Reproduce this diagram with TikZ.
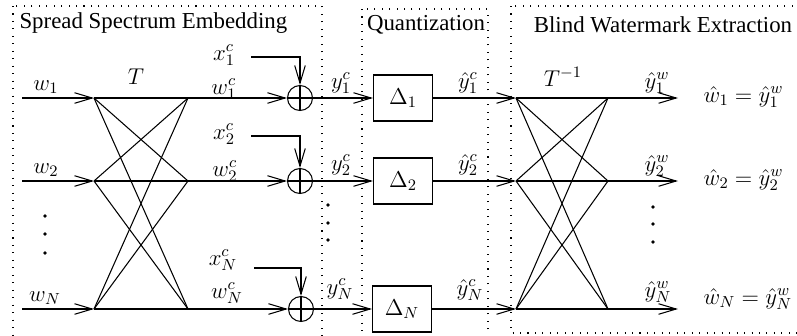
\RequirePackage{fix-cm}
\documentclass[tikz,border=0pt]{standalone}
\usepackage{fontspec}
\setmainfont{Liberation Serif}
\usepackage{tikz}
\usetikzlibrary{arrows.meta}
\tikzset{
  lbl/.style={font=\fontsize{13}{15}\selectfont, inner sep=0pt, anchor=base},
  ttl/.style={font=\fontsize{13}{15}\selectfont, inner sep=0pt, anchor=base},
  arr/.style={-{Straight Barb[length=10pt,width=6pt]}},
  sum/.style={circle, draw, minimum size=0.5cm, inner sep=0pt,
    path picture={\draw (path picture bounding box.north) -- (path picture bounding box.south)
                        (path picture bounding box.west) -- (path picture bounding box.east);}},
  qbox/.style={draw, minimum width=1.18cm, minimum height=0.92cm, inner sep=0pt,
    font=\fontsize{13}{15}\selectfont},
  stage/.style={line width=0.8pt, dash pattern=on 0.6pt off 3.65pt},
}

\begin{document}
\begin{tikzpicture}[x=0.02cm, y=-0.02cm, line width=0.6pt]
  \useasboundingbox (0,0) rectangle (797,335);

  % 三个阶段的虚线框
  \draw[stage] (13,6) rectangle (322,360);
  \draw[stage] (362,9) rectangle (488,360);
  \draw[stage] (511,6) rectangle (840,333);
  \node[ttl, anchor=base west] (ttlE) at (19,28) {Spread Spectrum Embedding};
  \node[ttl] (ttlQ) at (426,30) {Quantization};
  \node[ttl] (ttlX) at (663,32) {Blind Watermark Extraction};

  % 变换 T 的端点
  \coordinate (in1) at (22,98);  \coordinate (tl1) at (94,98);  \coordinate (tr1) at (188,98);
  \coordinate (in2) at (22,181); \coordinate (tl2) at (94,181); \coordinate (tr2) at (188,181);
  \coordinate (inN) at (22,309); \coordinate (tlN) at (94,309); \coordinate (trN) at (188,309);

  % 变换 T^{-1} 的端点
  \coordinate (il1) at (516,98);  \coordinate (ir1) at (608,98);  \coordinate (out1) at (678,98);
  \coordinate (il2) at (516,181); \coordinate (ir2) at (608,181); \coordinate (out2) at (678,181);
  \coordinate (ilN) at (516,309); \coordinate (irN) at (608,309); \coordinate (outN) at (678,309);

  % 加法器与量化器
  \node[sum] (s1) at (300,98) {};
  \node[sum] (s2) at (300,181) {};
  \node[sum] (sN) at (301,309) {};
  \node[qbox] (q1) at (403,98) {$\Delta_1$};
  \node[qbox] (q2) at (403,181) {$\Delta_2$};
  \node[qbox] (qN) at (402,309) {$\Delta_N$};

  % 宿主信号输入
  \coordinate (xc1) at (251,57);
  \coordinate (xc2) at (251,136);
  \coordinate (xcN) at (254,268);
  \draw[arr] (xc1) -| (s1);
  \draw[arr] (xc2) -| (s2);
  \draw[arr] (xcN) -| (sN);

  % 输入箭头
  \draw[arr] (in1) -- (tl1);
  \draw[arr] (in2) -- (tl2);
  \draw[arr] (inN) -- (tlN);

  % 交叉连线
  \foreach \a in {1,2,N} {
    \foreach \b in {1,2,N} {
      \draw (tl\a) -- (tr\b);
      \draw (il\a) -- (ir\b);
    }
  }

  % 各行信号通路
  \draw[arr] (tr1) -- (s1);
  \draw[arr] (tr2) -- (s2);
  \draw[arr] (trN) -- (sN);
  \draw[arr] (s1) -- (q1);
  \draw[arr] (s2) -- (q2);
  \draw[arr] (sN) -- (qN);
  \draw[arr] (q1) -- (il1);
  \draw[arr] (q2) -- (il2);
  \draw[arr] (qN) -- (ilN);
  \draw[arr] (ir1) -- (out1);
  \draw[arr] (ir2) -- (out2);
  \draw[arr] (irN) -- (outN);

  % 标注
  \node[lbl] (lw1) at (46,90)  {$w_1$};
  \node[lbl] (lw2) at (46,173) {$w_2$};
  \node[lbl] (lwN) at (45,301) {$w_N$};
  \node[lbl] (lT)  at (136,84) {$T$};
  \node[lbl] (lTi) at (563,86) {$T^{-1}$};

  \node[lbl] (lx1) at (224,60)  {$x_1^c$};
  \node[lbl] (lx2) at (224,139) {$x_2^c$};
  \node[lbl] (lxN) at (223,265) {$x_N^c$};
  \node[lbl] (lwc1) at (224,94)  {$w_1^c$};
  \node[lbl] (lwc2) at (225,176) {$w_2^c$};
  \node[lbl] (lwcN) at (227,298) {$w_N^c$};

  \node[lbl] (ly1) at (341,88)  {$y_1^c$};
  \node[lbl] (ly2) at (341,170) {$y_2^c$};
  \node[lbl] (lyN) at (340,294) {$y_N^c$};
  \node[lbl] (lq1) at (468,88)  {$\hat{y}_1^c$};
  \node[lbl] (lq2) at (468,170) {$\hat{y}_2^c$};
  \node[lbl] (lqN) at (470,295) {$\hat{y}_N^c$};

  \node[lbl] (lo1) at (657,88)  {$\hat{y}_1^w$};
  \node[lbl] (lo2) at (657,171) {$\hat{y}_2^w$};
  \node[lbl] (loN) at (658,297) {$\hat{y}_N^w$};
  \node[lbl, anchor=base west] (le1) at (703,102) {$\hat{w}_1=\hat{y}_1^w$};
  \node[lbl, anchor=base west] (le2) at (703,185) {$\hat{w}_2=\hat{y}_2^w$};
  \node[lbl, anchor=base west] (leN) at (703,304) {$\hat{w}_N=\hat{y}_N^w$};

  % 省略号
  \foreach \y in {216,234,253} \fill (45,\y) circle (1.1pt);
  \foreach \y in {205,223,240} \fill (328,\y) circle (1.1pt);
  \foreach \y in {207,224,242} \fill (653,\y) circle (1.1pt);
\end{tikzpicture}
\end{document}
